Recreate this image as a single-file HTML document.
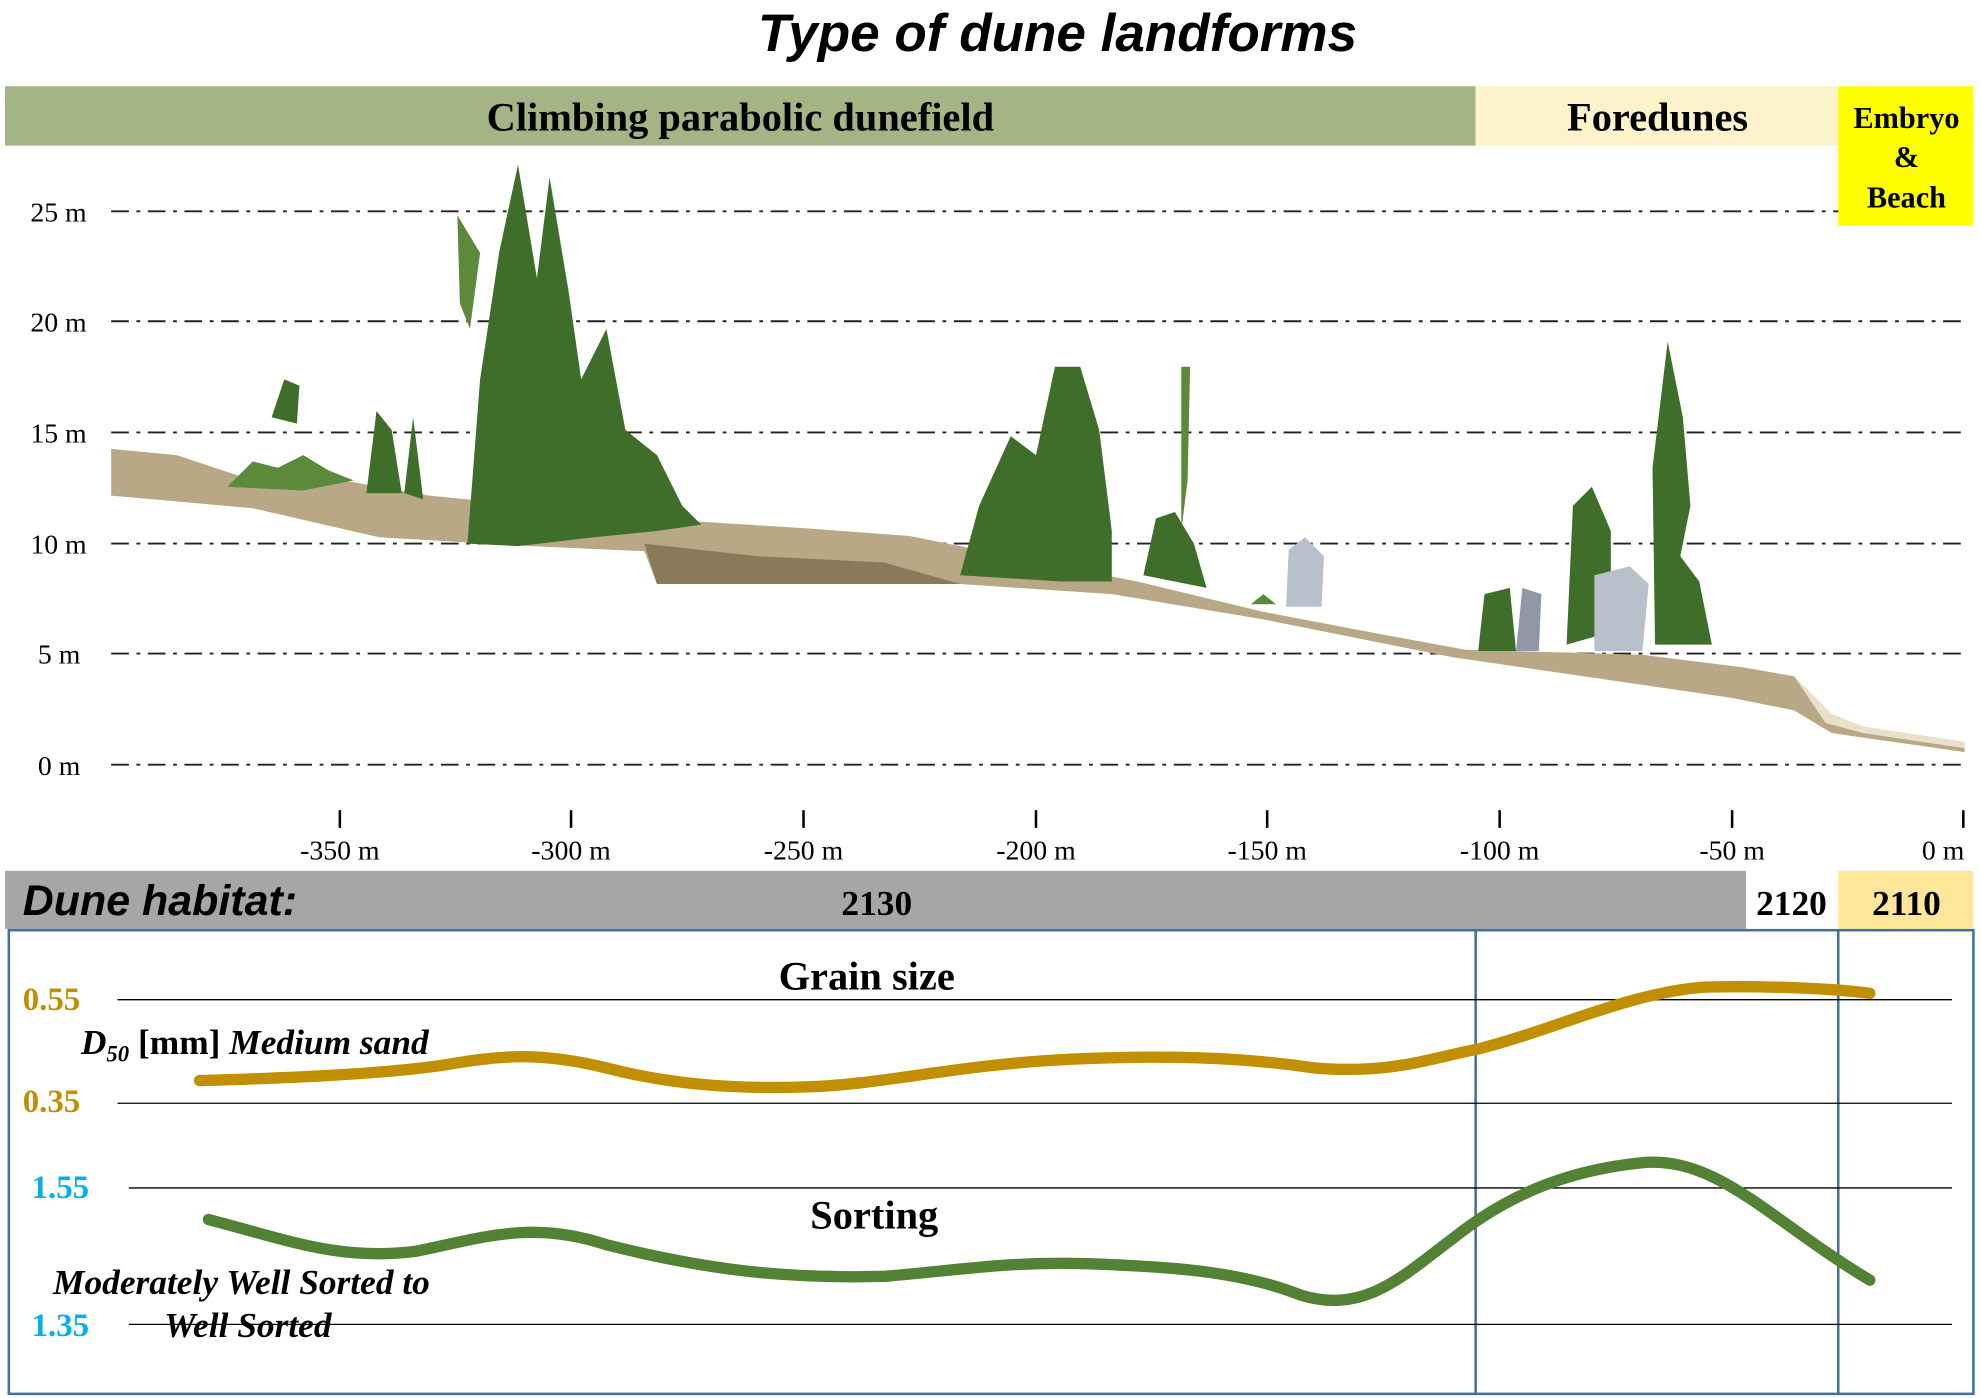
<!DOCTYPE html>
<html><head><meta charset="utf-8"><style>
html,body{margin:0;padding:0;background:#fff;}
svg{display:block;}
.s{font-family:"Liberation Serif",serif;}
</style></head><body>
<svg width="1981" height="1398" viewBox="0 0 1568 1106" xmlns="http://www.w3.org/2000/svg">
<rect width="1568" height="1106" fill="#fff"/>
<text x="837" y="40" text-anchor="middle" font-family="Liberation Sans,sans-serif" font-weight="bold" font-style="italic" font-size="42">Type of dune landforms</text>
<rect x="4" y="68" width="1164" height="47" fill="#a4b484"/>
<text x="586" y="103" text-anchor="middle" class="s" font-weight="bold" font-size="32">Climbing parabolic dunefield</text>
<rect x="1168" y="68" width="287" height="47" fill="#fdf3cb"/>
<text x="1312" y="103" text-anchor="middle" class="s" font-weight="bold" font-size="32">Foredunes</text>
<!-- grid -->
<g stroke="#222" stroke-width="1.5" stroke-dasharray="14,6,3,6">
<line x1="88" y1="167" x2="1555" y2="167"/><line x1="88" y1="254" x2="1555" y2="254"/>
<line x1="88" y1="342" x2="1555" y2="342"/><line x1="88" y1="430" x2="1555" y2="430"/>
<line x1="88" y1="517" x2="1555" y2="517"/><line x1="88" y1="605" x2="1555" y2="605"/></g>
<rect x="1455" y="68" width="107" height="110" fill="#ffff00"/>
<g class="s" font-weight="bold" font-size="24" text-anchor="middle">
<text x="1509" y="101">Embryo</text><text x="1509" y="132">&amp;</text><text x="1509" y="164">Beach</text></g>
<g class="s" font-size="22">
<text x="24" y="175">25 m</text><text x="24" y="262">20 m</text><text x="24" y="350">15 m</text>
<text x="24" y="438">10 m</text><text x="30" y="525">5 m</text><text x="30" y="613">0 m</text></g>
<!-- terrain -->
<polygon fill="#b8a886" points="88,355 140,360 200,380 260,378 340,392 400,398 480,408 560,413 640,418 720,424 800,440 900,460 1000,484 1100,503 1160,514 1300,518 1380,528 1420,535 1450,565 1475,575 1555,587 1555,595 1450,580 1420,562 1370,552 1150,520 1000,490 880,470 760,462 600,462 520,462 510,436 420,432 300,425 200,402 88,392"/>
<polygon fill="#8a7a5a" points="510,430 600,440 700,445 760,462 600,462 520,462"/>
<polygon fill="#e8e0c8" points="1420,535 1450,565 1475,575 1555,587 1555,592 1475,580 1445,572"/>
<!-- trees -->
<g fill="#3f6e2a">
<polygon points="370,430 380,300 395,200 410,130 425,220 435,140 450,230 460,300 480,260 495,340 520,360 540,400 555,415 520,420 470,425 410,432"/>
<polygon fill="#5c8a3a" points="362,170 380,200 372,260 364,240"/>
<polygon points="215,330 225,300 237,305 235,335"/>
<polygon points="290,390 298,325 310,340 318,390"/>
<polygon points="320,390 327,330 335,395"/>
<polygon fill="#5b8a3b" points="180,385 200,365 220,370 240,360 260,372 280,380 240,388"/>
<polygon points="760,455 775,400 800,345 820,360 835,290 855,290 870,340 880,420 880,460 840,460"/>
<polygon fill="#5c8a3a" points="935,290 942,290 940,380 935,420"/>
<polygon points="905,455 915,410 930,405 945,430 955,465"/>
<polygon points="1240,510 1245,400 1260,385 1275,420 1275,500"/>
<polygon points="1310,510 1308,370 1320,270 1332,330 1338,400 1330,440 1345,460 1355,510"/>
<polygon points="1170,515 1175,470 1195,465 1200,515"/>
<polygon fill="#5c8a3a" points="990,478 1000,470 1010,478"/>
</g>
<g fill="#b8c0cc"><polygon points="1018,480 1020,435 1033,425 1048,440 1046,480"/>
<polygon points="1262,515 1262,455 1290,448 1305,462 1300,515"/>
<polygon fill="#9098a8" points="1200,515 1205,465 1220,470 1218,515"/></g>
<!-- x ticks -->
<g stroke="#000" stroke-width="2">
<line x1="269" y1="641" x2="269" y2="655"/><line x1="452" y1="641" x2="452" y2="655"/>
<line x1="636" y1="641" x2="636" y2="655"/><line x1="820" y1="641" x2="820" y2="655"/>
<line x1="1003" y1="641" x2="1003" y2="655"/><line x1="1187" y1="641" x2="1187" y2="655"/>
<line x1="1371" y1="641" x2="1371" y2="655"/><line x1="1554" y1="641" x2="1554" y2="655"/></g>
<g class="s" font-size="22" text-anchor="middle">
<text x="269" y="680">-350 m</text><text x="452" y="680">-300 m</text><text x="636" y="680">-250 m</text>
<text x="820" y="680">-200 m</text><text x="1003" y="680">-150 m</text><text x="1187" y="680">-100 m</text>
<text x="1371" y="680">-50 m</text><text x="1538" y="680">0 m</text></g>
<!-- habitat bar -->
<rect x="4" y="689" width="1378" height="46" fill="#a6a6a6"/>
<rect x="1455" y="689" width="107" height="46" fill="#ffe699"/>
<text x="18" y="724" font-family="Liberation Sans,sans-serif" font-weight="bold" font-style="italic" font-size="34">Dune habitat:</text>
<g class="s" font-weight="bold" font-size="28" text-anchor="middle">
<text x="694" y="724">2130</text><text x="1418" y="724">2120</text><text x="1509" y="724">2110</text></g>
<!-- lower box -->
<rect x="7" y="736" width="1555" height="367" fill="none" stroke="#41719c" stroke-width="2"/>
<line x1="1168" y1="736" x2="1168" y2="1103" stroke="#41719c" stroke-width="2"/>
<line x1="1455" y1="736" x2="1455" y2="1103" stroke="#41719c" stroke-width="2"/>
<g stroke="#000" stroke-width="1">
<line x1="93" y1="791" x2="1545" y2="791"/><line x1="93" y1="873" x2="1545" y2="873"/>
<line x1="102" y1="940" x2="1545" y2="940"/><line x1="102" y1="1048" x2="1545" y2="1048"/></g>
<g class="s" font-weight="bold" font-size="26">
<text x="18" y="799" fill="#c09000">0.55</text><text x="18" y="880" fill="#c09000">0.35</text>
<text x="25" y="948" fill="#00b0f0">1.55</text><text x="25" y="1057" fill="#00b0f0">1.35</text></g>
<text x="686" y="783" text-anchor="middle" class="s" font-weight="bold" font-size="32">Grain size</text>
<text x="692" y="972" text-anchor="middle" class="s" font-weight="bold" font-size="32">Sorting</text>
<text x="64" y="834" class="s" font-style="italic" font-weight="bold" font-size="28">D<tspan font-size="18" dy="6">50</tspan><tspan dy="-6" font-style="normal"> [mm]  </tspan>Medium sand</text>
<text x="42" y="1024" class="s" font-style="italic" font-weight="bold" font-size="28">Moderately Well Sorted to</text>
<text x="130" y="1058" class="s" font-style="italic" font-weight="bold" font-size="28">Well Sorted</text>
<path fill="none" stroke="#c09000" stroke-width="9" stroke-linecap="round" d="M158,855 C230,853 300,850 350,843 C400,834 430,833 480,845 C530,858 580,862 640,860 C700,858 760,842 850,838 C920,835 980,836 1040,845 C1100,850 1130,838 1170,830 C1230,815 1290,785 1350,781 C1400,780 1450,782 1480,786"/>
<path fill="none" stroke="#548235" stroke-width="9" stroke-linecap="round" d="M165,965 C230,982 270,998 330,990 C380,980 420,965 480,985 C560,1005 620,1012 700,1010 C760,1005 800,998 860,1000 C920,1002 980,1005 1030,1025 C1080,1040 1110,1010 1150,980 C1200,940 1250,925 1300,920 C1360,915 1400,965 1480,1013"/>
</svg>
</body></html>
